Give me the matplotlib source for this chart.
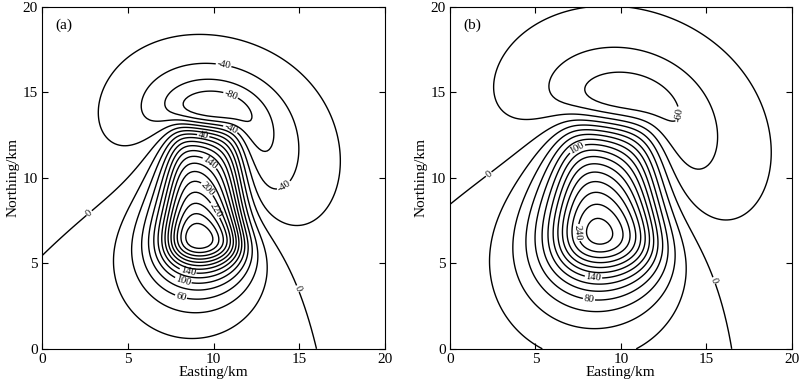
import numpy as np
import matplotlib.pyplot as plt

plt.rcParams['font.family'] = ['Liberation Serif', 'DejaVu Serif']

# observation grid (km)
east = np.linspace(0, 20, 161)
north = np.linspace(0, 20, 161)
X, Y = np.meshgrid(east, north)

# source prisms: x1, x2, y1, y2, ztop, zbottom (km)
prism_a = [7.7, 11.6, 5.9, 13.6, 1.2, 5.5]
prism_b = [6.9, 12.1, 5.8, 13.8, 1.8, 7.5]
# magnetisation inclination / declination (deg)
incdec_a = [55, 16]
incdec_b = [58, 20]
# peak anomaly (nT)
peak_a = 300
peak_b = 270

levels = np.arange(-200, 601, 20)

# label positions (Easting, Northing) taken from the figure
labels_a = [(2.7, 8.0), (10.6, 16.7), (11.1, 15.1), (11.0, 12.9), (9.4, 12.5),
            (9.8, 10.9), (9.8, 9.5), (10.1, 8.1), (14.6, 8.7), (8.5, 4.5),
            (8.2, 3.9), (8.0, 2.7), (14.4, 3.3)]
labels_b = [(2.6, 9.8), (7.4, 11.8), (13.6, 13.7), (7.7, 6.8), (8.4, 4.2),
            (8.1, 2.6), (15.2, 3.9)]


def unit(inc, dec):
    i, d = np.radians(inc), np.radians(dec)
    return np.array([np.cos(i)*np.sin(d), np.cos(i)*np.cos(d), np.sin(i)])


def prism_anomaly(bounds, inc, dec, n=(8, 16, 10)):
    # sum of point dipoles filling the prism, induced magnetisation
    x1, x2, y1, y2, z1, z2 = bounds
    xs = np.linspace(x1, x2, n[0]*2+1)[1::2]
    ys = np.linspace(y1, y2, n[1]*2+1)[1::2]
    zs = np.linspace(z1, z2, n[2]*2+1)[1::2]
    m = unit(inc, dec)
    T = np.zeros_like(X)
    for sz in zs:
        for sy in ys:
            for sx in xs:
                rx, ry, rz = X - sx, Y - sy, -sz
                r2 = rx**2 + ry**2 + rz**2
                mr = m[0]*rx + m[1]*ry + m[2]*rz
                T += (3*mr*mr/r2 - 1)/r2**1.5
    return T


Ta = prism_anomaly(prism_a, *incdec_a)
Ta = Ta/Ta.max()*peak_a
Tb = prism_anomaly(prism_b, *incdec_b)
Tb = Tb/Tb.max()*peak_b

fig = plt.figure(figsize=(8, 3.85), dpi=100)
ax1 = fig.add_axes([0.0525, 0.094, 0.429, 0.888])
ax2 = fig.add_axes([0.5625, 0.094, 0.427, 0.888])

for ax, T, labs, tag in [(ax1, Ta, labels_a, '(a)'), (ax2, Tb, labels_b, '(b)')]:
    cs = ax.contour(X, Y, T, levels=levels, colors='k', linewidths=1.0,
                    linestyles='solid')
    ax.clabel(cs, fmt='%d', fontsize=7.5, inline=True, inline_spacing=1,
              manual=labs)
    ax.set_xlim(0, 20)
    ax.set_ylim(0, 20)
    ax.set_xticks([0, 5, 10, 15, 20])
    ax.set_yticks([0, 5, 10, 15, 20])
    ax.tick_params(direction='in', top=True, right=True, labelsize=11,
                   length=4, width=0.8, pad=3)
    ax.set_xlabel('Easting/km', fontsize=11, labelpad=0)
    ax.set_ylabel('Northing/km', fontsize=11, labelpad=2)
    ax.text(0.04, 0.965, tag, transform=ax.transAxes, fontsize=11,
            ha='left', va='top')
    for s in ax.spines.values():
        s.set_linewidth(0.8)

fig.savefig('out.png', dpi=100)
